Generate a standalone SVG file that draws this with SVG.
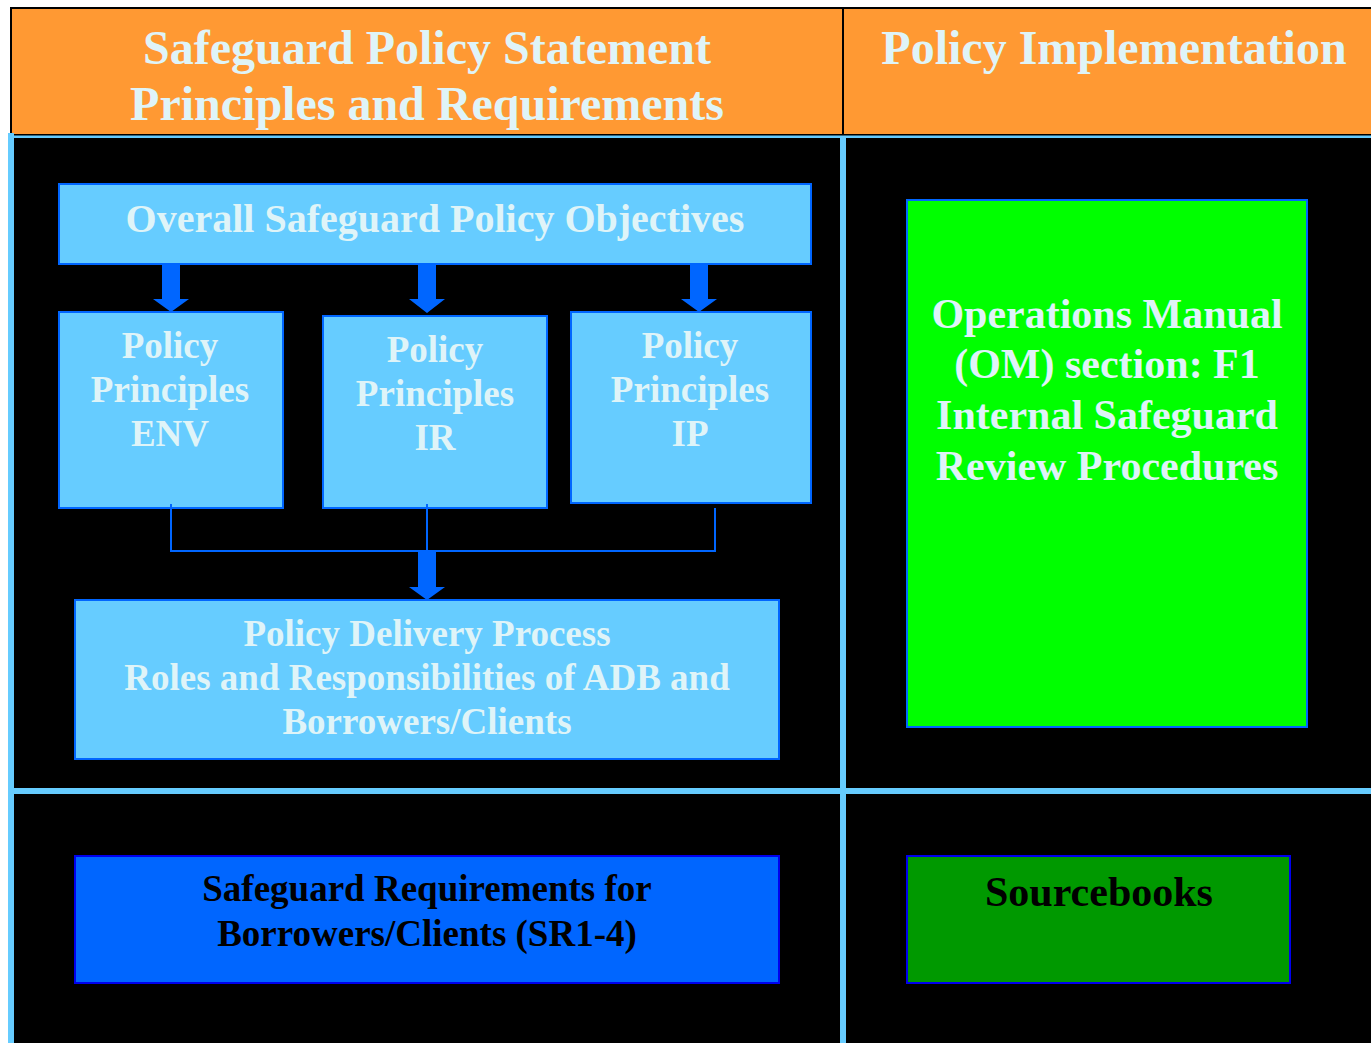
<svg xmlns="http://www.w3.org/2000/svg" width="1371" height="1043" viewBox="0 0 1371 1043">
<style>
text{font-family:"Liberation Serif","Times New Roman",serif;font-weight:bold;text-anchor:middle}
.lt{fill:#DFF4F8}
.dk{fill:#000}
.box{fill:#66CCFF;stroke:#0066FF;stroke-width:2}
.arr{fill:#0066FF}
.ln{fill:none;stroke:#0066FF;stroke-width:2}
.sep{fill:#66CCFF}
</style>
<rect x="0" y="0" width="1371" height="1043" fill="#fff"/>
<g id="header">
<rect x="11" y="8" width="1362" height="127" fill="#FF9933" stroke="#000" stroke-width="2"/>
<line x1="843" y1="8" x2="843" y2="135" stroke="#000" stroke-width="2"/>
<text class="lt" x="427" y="64" font-size="48">Safeguard Policy Statement</text>
<text class="lt" x="427" y="120" font-size="48">Principles and Requirements</text>
<text class="lt" x="1114" y="64" font-size="48">Policy Implementation</text>
</g>
<g id="body">
<rect x="14" y="137" width="1357" height="906" fill="#000"/>
<rect class="sep" x="8" y="133" width="6" height="910"/>
<rect class="sep" x="14" y="135.5" width="1357" height="2.5"/>
<rect class="sep" x="840" y="137" width="6" height="906"/>
<rect class="sep" x="14" y="788" width="1357" height="6"/>
</g>
<g id="objectives">
<rect class="box" x="59" y="184" width="752" height="80"/>
<text class="lt" x="435" y="232" font-size="40">Overall Safeguard Policy Objectives</text>
</g>
<g id="env">
<rect class="box" x="59" y="312" width="224" height="196"/>
<text class="lt" x="170" y="358" font-size="37">Policy</text>
<text class="lt" x="170" y="402" font-size="37">Principles</text>
<text class="lt" x="170" y="446" font-size="37">ENV</text>
</g>
<g id="ir">
<rect class="box" x="323" y="316" width="224" height="192"/>
<text class="lt" x="435" y="362" font-size="37">Policy</text>
<text class="lt" x="435" y="406" font-size="37">Principles</text>
<text class="lt" x="435" y="450" font-size="37">IR</text>
</g>
<g id="ip">
<rect class="box" x="571" y="312" width="240" height="191"/>
<text class="lt" x="690" y="358" font-size="37">Policy</text>
<text class="lt" x="690" y="402" font-size="37">Principles</text>
<text class="lt" x="690" y="446" font-size="37">IP</text>
</g>
<g id="delivery">
<rect class="box" x="75" y="600" width="704" height="159"/>
<text class="lt" x="427" y="646" font-size="37">Policy Delivery Process</text>
<text class="lt" x="427" y="690" font-size="37">Roles and Responsibilities of ADB and</text>
<text class="lt" x="427" y="734" font-size="37">Borrowers/Clients</text>
</g>
<g id="requirements">
<rect x="75" y="856" width="704" height="127" fill="#0066FF" stroke="#0000EE" stroke-width="2"/>
<text class="dk" x="427" y="901" font-size="37">Safeguard Requirements for</text>
<text class="dk" x="427" y="946" font-size="37">Borrowers/Clients (SR1-4)</text>
</g>
<g id="om">
<rect x="907" y="200" width="400" height="527" fill="#00FF00" stroke="#0066FF" stroke-width="2"/>
<text class="lt" x="1107" y="328" font-size="42">Operations Manual</text>
<text class="lt" x="1107" y="378" font-size="42">(OM) section: F1</text>
<text class="lt" x="1107" y="429" font-size="42">Internal Safeguard</text>
<text class="lt" x="1107" y="480" font-size="42">Review Procedures</text>
</g>
<g id="sourcebooks">
<rect x="907" y="856" width="383" height="127" fill="#009900" stroke="#0000EE" stroke-width="2"/>
<text class="dk" x="1099" y="906" font-size="42">Sourcebooks</text>
</g>
<g id="connectors">
<polygon class="arr" points="162,265 180,265 180,299 189,299 171,312 153,299 162,299"/>
<polygon class="arr" points="418,265 436,265 436,299 445,299 427,313 409,299 418,299"/>
<polygon class="arr" points="690,265 708,265 708,299 717,299 699,312 681,299 690,299"/>
<polyline class="ln" points="171,504 171,551 715,551 715,508"/>
<line class="ln" x1="427" y1="504" x2="427" y2="551"/>
<polygon class="arr" points="418,551 436,551 436,587 445,587 427,600 409,587 418,587"/>
</g>
</svg>
